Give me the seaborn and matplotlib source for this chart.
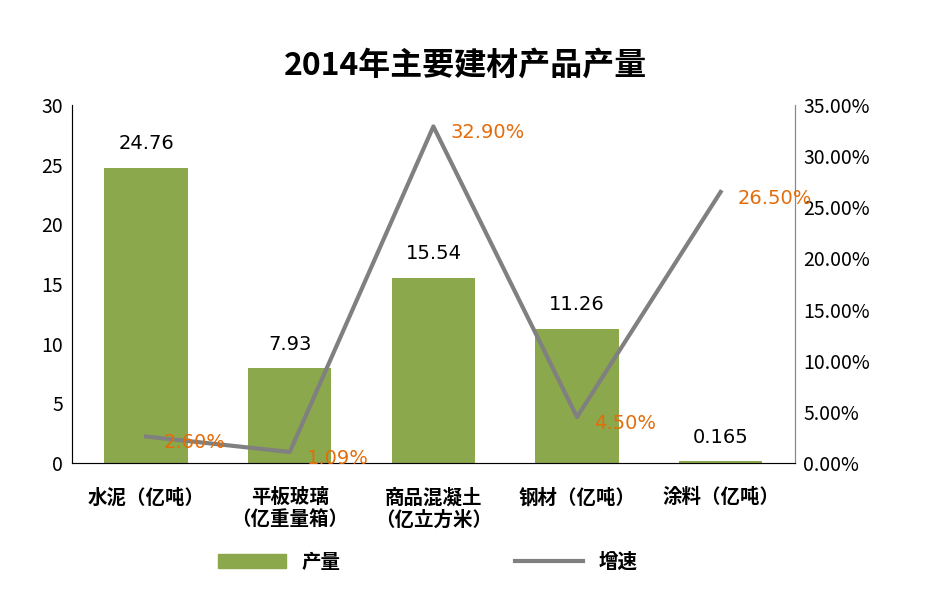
import matplotlib
matplotlib.use("Agg")
import matplotlib.pyplot as plt
from matplotlib import font_manager
import seaborn as sns
import pandas as pd
from matplotlib.ticker import FuncFormatter
from matplotlib.lines import Line2D
from matplotlib.patches import Patch

names = {f.name for f in font_manager.fontManager.ttflist}
cjk = [n for n in ["Noto Sans CJK SC", "Noto Sans CJK JP", "Noto Sans CJK TC", "Noto Sans CJK KR"] if n in names]
if not cjk:
    cjk = [f.name for f in font_manager.fontManager.ttflist if "CJK" in f.name][:1]
FAM = cjk + ["DejaVu Sans"]
plt.rcParams["font.family"] = FAM

categories = ["水泥（亿吨）", "平板玻璃\n（亿重量箱）", "商品混凝土\n（亿立方米）", "钢材（亿吨）", "涂料（亿吨）"]
output = [24.76, 7.93, 15.54, 11.26, 0.165]
output_labels = ["24.76", "7.93", "15.54", "11.26", "0.165"]
growth = [2.60, 1.09, 32.90, 4.50, 26.50]
growth_labels = ["2.60%", "1.09%", "32.90%", "4.50%", "26.50%"]

df = pd.DataFrame({"cat": categories, "out": output, "g": growth})

fig = plt.figure(figsize=(9.3, 5.93), dpi=100)
ax = fig.add_axes([0.077, 0.219, 0.778, 0.604])
sns.barplot(data=df, x="cat", y="out", color="#8BA84C", saturation=1, width=0.58, ax=ax)
ax.set_ylim(0, 30)
ax.set_yticks(range(0, 31, 5))
ax.set_xlabel(""); ax.set_ylabel("")
ax.tick_params(axis="y", labelsize=14, length=0, pad=6)
ax.tick_params(axis="x", labelsize=14, length=0, pad=18)
for lbl in ax.get_xticklabels():
    lbl.set_fontweight("bold"); lbl.set_family(FAM)
ax.spines["top"].set_visible(False)
for s in ["left", "bottom", "right"]:
    ax.spines[s].set_color("#888888")
for i, (v, t) in enumerate(zip(output, output_labels)):
    ax.text(i, v + 1.2, t, ha="center", va="bottom", fontsize=14, fontfamily="DejaVu Sans")

ax2 = ax.twinx()
ax2.plot(range(len(growth)), growth, color="#808080", lw=3)
ax2.set_ylim(0, 35)
ax2.set_yticks(range(0, 36, 5))
ax2.yaxis.set_major_formatter(FuncFormatter(lambda v, p: f"{v:.2f}%"))
ax2.tick_params(axis="y", labelsize=14, length=0, pad=6)
ax2.spines["top"].set_visible(False)
ax2.spines["right"].set_color("#888888")
for i, (v, t) in enumerate(zip(growth, growth_labels)):
    ax2.text(i + 0.12, v - 0.6, t, ha="left", va="center", fontsize=14, color="#E46C0A", fontfamily="DejaVu Sans")

fig.text(0.5, 0.89, "2014年主要建材产品产量", ha="center", va="center", fontsize=23, fontweight="bold", family=FAM)
handles = [Patch(color="#8BA84C"), Line2D([], [], color="#808080", lw=3)]
fig.legend(handles, ["产量", "增速"], loc="center", bbox_to_anchor=(0.46, 0.052), ncol=2,
           frameon=False, columnspacing=9, handlelength=3.5,
           prop={"weight": "bold", "size": 14, "family": FAM})
fig.savefig("out.png", dpi=100)
